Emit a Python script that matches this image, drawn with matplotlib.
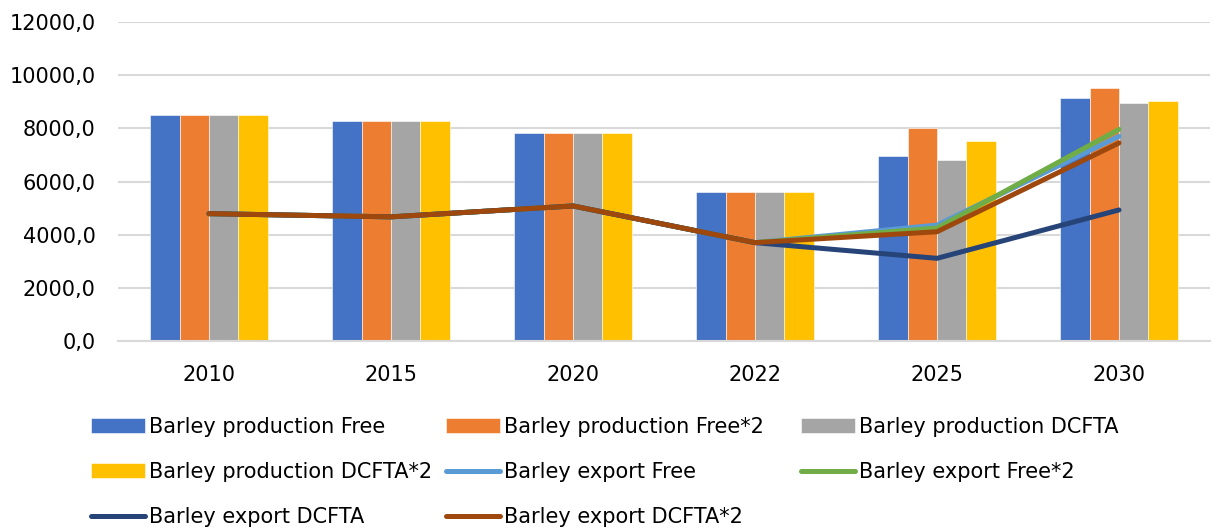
import matplotlib
matplotlib.use("Agg")
import matplotlib.pyplot as plt
import numpy as np

plt.rcParams['font.family'] = ['DejaVu Sans']

years = ["2010", "2015", "2020", "2022", "2025", "2030"]

prod_free = [8500, 8270, 7820, 5600, 6960, 9130]
prod_free2 = [8500, 8270, 7820, 5600, 8000, 9520]
prod_dcfta = [8500, 8270, 7820, 5600, 6800, 8960]
prod_dcfta2 = [8500, 8270, 7820, 5600, 7520, 9020]

exp_free = [4790, 4670, 5080, 3700, 4360, 7700]
exp_free2 = [4790, 4670, 5080, 3700, 4250, 7960]
exp_dcfta = [4790, 4670, 5080, 3700, 3110, 4930]
exp_dcfta2 = [4790, 4670, 5080, 3700, 4110, 7450]

yticks = [0, 2000, 4000, 6000, 8000, 10000, 12000]
ytick_labels = ["0,0", "2000,0", "4000,0", "6000,0", "8000,0", "10000,0", "12000,0"]

W, H = 1213, 528
fig = plt.figure(figsize=(W / 100, H / 100), dpi=100)
ax = fig.add_axes([118 / W, 1 - 341 / H, (1210 - 118) / W, (341 - 22) / H])

x = np.arange(len(years))
bw = 0.162
bar_series = [
    (prod_free, "#4472C4", "Barley production Free"),
    (prod_free2, "#ED7D31", "Barley production Free*2"),
    (prod_dcfta, "#A5A5A5", "Barley production DCFTA"),
    (prod_dcfta2, "#FFC000", "Barley production DCFTA*2"),
]
handles = []
for i, (vals, col, lab) in enumerate(bar_series):
    h = ax.bar(x + (i - 1.5) * bw, vals, width=bw, color=col, label=lab,
               edgecolor="white", linewidth=0.4, zorder=2)
    handles.append(h)

line_series = [
    (exp_free, "#5B9BD5", "Barley export Free"),
    (exp_free2, "#70AD47", "Barley export Free*2"),
    (exp_dcfta, "#264478", "Barley export DCFTA"),
    (exp_dcfta2, "#9E480E", "Barley export DCFTA*2"),
]
for vals, col, lab in line_series:
    h, = ax.plot(x, vals, color=col, linewidth=3.6, solid_capstyle="round",
                 label=lab, zorder=3)
    handles.append(h)

ax.set_xlim(-0.5, len(years) - 0.5)
ax.set_ylim(0, 12000)
ax.set_yticks(yticks)
ax.set_yticklabels(ytick_labels)
ax.set_xticks(x)
ax.set_xticklabels(years)
ax.grid(axis="y", color="#D9D9D9", linewidth=1.5, zorder=0)
ax.set_axisbelow(True)
for s in ["top", "right", "left"]:
    ax.spines[s].set_visible(False)
ax.spines["bottom"].set_color("#D9D9D9")
ax.spines["bottom"].set_linewidth(1.5)
ax.tick_params(axis="both", length=0, labelsize=15, colors="black")
ax.tick_params(axis="x", pad=17)
ax.tick_params(axis="y", pad=16)

# legend in three columns, laid out row by row
columns = [[0, 3, 6], [1, 4, 7], [2, 5]]
col_x = [91, 446, 801]
for cx, idxs in zip(col_x, columns):
    leg = fig.legend([handles[i] for i in idxs], [handles[i].get_label() for i in idxs],
                     loc="upper left", bbox_to_anchor=(cx / W, 1 - 417 / H),
                     frameon=False, fontsize=15, handlelength=2.6, handletextpad=0.2,
                     labelspacing=1.2, borderaxespad=0, borderpad=0)

fig.savefig("out.png", dpi=100)
